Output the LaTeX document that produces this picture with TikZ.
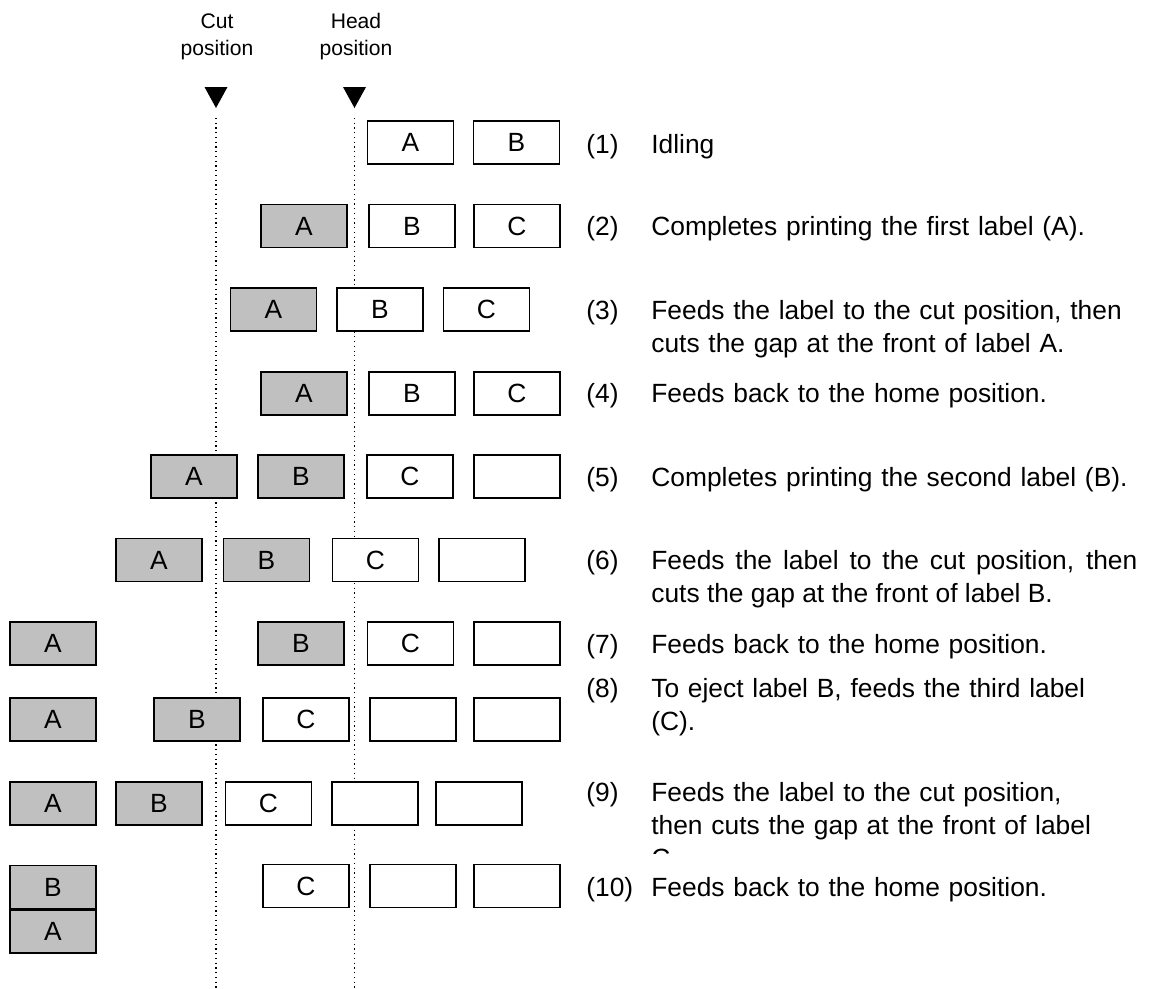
\documentclass[tikz,border=0pt]{standalone}
\usepackage{fontspec}
\setmainfont{Liberation Sans}
\definecolor{printgray}{RGB}{192,192,192}
\hyphenpenalty=10000
\exhyphenpenalty=10000
\tikzset{
  lbl/.style={draw, line width=1pt, fill=white, minimum width=1.72cm, minimum height=0.86cm, inner sep=0pt},
  printed/.style={lbl, fill=printgray},
  guide/.style={dotted, line width=0.7pt},
  stepno/.style={anchor=base west, inner sep=0pt},
  stepdesc/.style={anchor=base west, inner sep=0pt, text width=#1, align=left},
  stepdesc/.default=9.72cm
}

\begin{document}
\begin{tikzpicture}[font=\fontsize{15pt}{19pt}\selectfont]
\useasboundingbox (0,0) rectangle (23.06,-19.76);

% --- Positions ---
\node[align=center, font=\fontsize{12pt}{15.3pt}\selectfont] (cutlbl) at (4.34,-0.73) {Cut\\position};
\node[align=center, font=\fontsize{12pt}{15.3pt}\selectfont] (headlbl) at (7.12,-0.73) {Head\\position};
\coordinate (cutmark) at (4.32,-1.74);
\coordinate (headmark) at (7.09,-1.74);
\fill (cutmark) ++(-0.23,0) -- ++(0.46,0) -- ++(-0.23,-0.42) -- cycle;
\fill (headmark) ++(-0.23,0) -- ++(0.46,0) -- ++(-0.23,-0.42) -- cycle;
\coordinate (cuttop) at (4.32,-2.36);
\coordinate (cutbot) at (4.32,-19.76);
\coordinate (headtop) at (7.09,-2.36);
\coordinate (headbot) at (7.09,-19.76);
\draw[guide] (cuttop) -- (cutbot);
\draw[guide] (headtop) -- (headbot);

% --- (1) ---
\node[lbl] (r1a) at (8.21,-2.85) {A};
\node[lbl] (r1b) at (10.33,-2.85) {B};
\node[stepno] (n1) at (11.72,-3.07) {(1)};
\node[stepdesc] (d1) at (13.02,-3.07) {Idling};

% --- (2) ---
\node[printed] (r2a) at (6.08,-4.52) {A};
\node[lbl] (r2b) at (8.24,-4.52) {B};
\node[lbl] (r2c) at (10.34,-4.52) {C};
\node[stepno] (n2) at (11.72,-4.71) {(2)};
\node[stepdesc] (d2) at (13.02,-4.71) {Completes printing the first label (A).};

% --- (3) ---
\node[printed] (r3a) at (5.47,-6.19) {A};
\node[lbl] (r3b) at (7.60,-6.19) {B};
\node[lbl] (r3c) at (9.73,-6.19) {C};
\node[stepno] (n3) at (11.72,-6.38) {(3)};
\node[stepdesc] (d3) at (13.02,-6.38) {Feeds the label to the cut position, then cuts the gap at the front of label A.};

% --- (4) ---
\node[printed] (r4a) at (6.08,-7.87) {A};
\node[lbl] (r4b) at (8.24,-7.87) {B};
\node[lbl] (r4c) at (10.34,-7.87) {C};
\node[stepno] (n4) at (11.72,-8.05) {(4)};
\node[stepdesc] (d4) at (13.02,-8.05) {Feeds back to the home position.};

% --- (5) ---
\node[printed] (r5a) at (3.88,-9.53) {A};
\node[printed] (r5b) at (6.02,-9.53) {B};
\node[lbl] (r5c) at (8.20,-9.53) {C};
\node[lbl] (r5d) at (10.34,-9.53) {};
\node[stepno] (n5) at (11.72,-9.72) {(5)};
\node[stepdesc] (d5) at (13.02,-9.72) {Completes printing the second label (B).};

% --- (6) ---
\node[printed] (r6a) at (3.18,-11.2) {A};
\node[printed] (r6b) at (5.33,-11.2) {B};
\node[lbl] (r6c) at (7.51,-11.2) {C};
\node[lbl] (r6d) at (9.64,-11.2) {};
\node[stepno] (n6) at (11.72,-11.38) {(6)};
\node[stepdesc, align=justify] (d6) at (13.02,-11.38) {Feeds the label to the cut position, then cuts the gap at the front of label B.};

% --- (7) ---
\node[printed] (r7a) at (1.06,-12.87) {A};
\node[printed] (r7b) at (6.02,-12.87) {B};
\node[lbl] (r7c) at (8.21,-12.87) {C};
\node[lbl] (r7d) at (10.34,-12.87) {};
\node[stepno] (n7) at (11.72,-13.07) {(7)};
\node[stepdesc] (d7) at (13.02,-13.07) {Feeds back to the home position.};

% --- (8) ---
\node[printed] (r8a) at (1.06,-14.39) {A};
\node[printed] (r8b) at (3.94,-14.39) {B};
\node[lbl] (r8c) at (6.12,-14.39) {C};
\node[lbl] (r8d) at (8.26,-14.39) {};
\node[lbl] (r8e) at (10.34,-14.39) {};
\node[stepno] (n8) at (11.72,-13.94) {(8)};
\node[stepdesc=8.9cm] (d8) at (13.02,-13.94) {To eject label B, feeds the third label (C).};

% --- (9) ---
\node[printed] (r9a) at (1.06,-16.07) {A};
\node[printed] (r9b) at (3.18,-16.07) {B};
\node[lbl] (r9c) at (5.37,-16.07) {C};
\node[lbl] (r9d) at (7.50,-16.07) {};
\node[lbl] (r9e) at (9.58,-16.07) {};
\node[stepno] (n9) at (11.72,-16.02) {(9)};
\begin{scope}
  \clip (12.9,-15.2) rectangle (23.06,-17.06);
  \node[stepdesc=8.9cm] (d9) at (13.02,-16.02) {Feeds the label to the cut position, then cuts the gap at the front of label C.};
\end{scope}

% --- (10) ---
\node[printed] (r10b) at (1.06,-17.74) {B};
\node[printed, anchor=north] (r10a) at (r10b.south) {A};
\node[lbl] (r10c) at (6.12,-17.72) {C};
\node[lbl] (r10d) at (8.26,-17.72) {};
\node[lbl] (r10e) at (10.34,-17.72) {};
\node[stepno] (n10) at (11.72,-17.92) {(10)};
\node[stepdesc] (d10) at (13.02,-17.92) {Feeds back to the home position.};

\end{tikzpicture}
\end{document}
